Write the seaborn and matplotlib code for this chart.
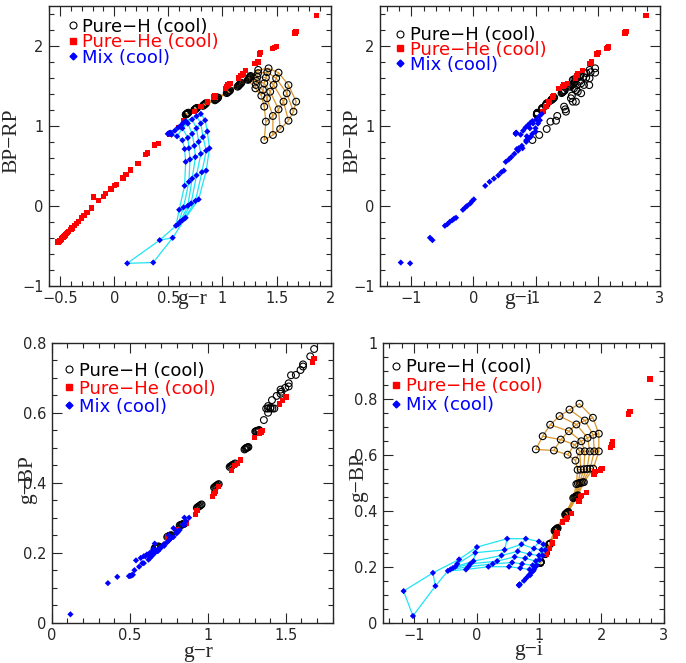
import numpy as np
import pandas as pd
import matplotlib
matplotlib.use('Agg')
import matplotlib.pyplot as plt
import seaborn as sns
from matplotlib.ticker import MultipleLocator, FuncFormatter
from matplotlib.lines import Line2D

nan = np.nan

# Pure-H (cool) model grid: one row per temperature step (warm -> cool), one column per track
h_gr = [
    [0.66, 0.664, 0.67, 0.675, 0.679, 0.685],
    [0.74, 0.746, 0.75, 0.754, 0.76, 0.765],
    [0.82, 0.826, 0.833, 0.838, 0.843, 0.85],
    [0.93, 0.935, 0.942, 0.948, 0.955, 0.96],
    [1.04, 1.046, 1.052, 1.057, 1.064, 1.07],
    [1.14, 1.147, 1.154, 1.16, 1.168, 1.175],
    [1.235, 1.24, 1.245, 1.25, 1.255, 1.26],
    [1.304, 1.309, 1.315, 1.322, 1.328, 1.33],
    [1.359, 1.374, 1.386, 1.401, 1.414, 1.426],
    [1.386, 1.411, 1.441, 1.472, 1.496, 1.518],
    [1.401, 1.466, 1.518, 1.564, 1.594, 1.61],
    [1.386, 1.466, 1.533, 1.61, 1.656, 1.681],
]
h_bprp = [
    [1.14, 1.145, 1.15, 1.155, 1.16, 1.165],
    [1.20, 1.205, 1.21, 1.215, 1.22, 1.225],
    [1.25, 1.26, 1.265, 1.27, 1.28, 1.285],
    [1.32, 1.33, 1.335, 1.34, 1.35, 1.355],
    [1.41, 1.42, 1.425, 1.43, 1.44, 1.445],
    [1.49, 1.50, 1.51, 1.52, 1.53, 1.54],
    [1.575, 1.585, 1.595, 1.605, 1.615, 1.625],
    [1.47, 1.512, 1.562, 1.612, 1.659, 1.70],
    [1.378, 1.449, 1.533, 1.604, 1.671, 1.72],
    [1.241, 1.345, 1.428, 1.512, 1.596, 1.666],
    [1.053, 1.124, 1.207, 1.303, 1.408, 1.51],
    [0.823, 0.886, 0.961, 1.065, 1.178, 1.303],
]
h_gi = [
    [1.02, 1.022, 1.024, 1.026, 1.028, 1.03],
    [1.10, 1.102, 1.104, 1.106, 1.108, 1.11],
    [1.16, 1.165, 1.17, 1.175, 1.18, 1.185],
    [1.25, 1.26, 1.27, 1.28, 1.29, 1.30],
    [1.42, 1.43, 1.44, 1.45, 1.46, 1.47],
    [1.55, 1.565, 1.58, 1.595, 1.61, 1.625],
    [1.60, 1.625, 1.65, 1.675, 1.70, 1.72],
    [1.62, 1.67, 1.72, 1.77, 1.82, 1.87],
    [1.585, 1.654, 1.735, 1.816, 1.887, 1.96],
    [1.46, 1.57, 1.68, 1.78, 1.87, 1.96],
    [1.24, 1.35, 1.48, 1.60, 1.735, 1.865],
    [0.95, 1.06, 1.18, 1.33, 1.49, 1.65],
]
h_gbp = [
    [0.213, 0.214, 0.215, 0.216, 0.217, 0.218],
    [0.245, 0.246, 0.247, 0.248, 0.249, 0.25],
    [0.278, 0.279, 0.28, 0.281, 0.282, 0.283],
    [0.328, 0.33, 0.332, 0.334, 0.336, 0.338],
    [0.386, 0.388, 0.39, 0.392, 0.394, 0.396],
    [0.445, 0.447, 0.449, 0.451, 0.453, 0.455],
    [0.495, 0.497, 0.499, 0.50, 0.501, 0.502],
    [0.546, 0.547, 0.548, 0.549, 0.55, 0.55],
    [0.579, 0.612, 0.612, 0.612, 0.612, 0.612],
    [0.60, 0.636, 0.648, 0.66, 0.671, 0.675],
    [0.615, 0.654, 0.684, 0.708, 0.722, 0.732],
    [0.619, 0.666, 0.707, 0.738, 0.761, 0.782],
]

# Mix (cool) model grid
mix_gr = [
    [0.495, 0.50, 0.505, 0.51, 0.515, 0.52],
    [0.53, 0.56, 0.59, 0.62, 0.64, 0.66],
    [0.58, 0.63, 0.68, 0.72, 0.76, 0.80],
    [0.63, 0.68, 0.72, 0.76, 0.80, 0.84],
    [0.65, 0.69, 0.74, 0.78, 0.82, 0.86],
    [0.66, 0.70, 0.75, 0.80, 0.85, 0.88],
    [0.65, 0.69, 0.72, 0.76, 0.81, 0.85],
    [0.60, 0.64, 0.68, 0.71, 0.75, 0.78],
    [0.57, 0.59, 0.61, 0.63, 0.65, 0.66],
    [0.42, nan, nan, nan, nan, 0.54],
    [0.12, nan, nan, nan, nan, 0.36],
]
mix_bprp = [
    [0.90, 0.903, 0.906, 0.909, 0.912, 0.915],
    [0.89, 0.94, 0.98, 1.01, 1.04, 1.06],
    [0.87, 0.97, 1.03, 1.08, 1.12, 1.15],
    [0.82, 0.85, 0.90, 0.97, 1.03, 1.07],
    [0.71, 0.72, 0.75, 0.80, 0.86, 0.93],
    [0.55, 0.58, 0.61, 0.65, 0.69, 0.72],
    [0.25, 0.30, 0.34, 0.38, 0.42, 0.44],
    [-0.05, -0.02, 0.00, 0.03, 0.06, 0.08],
    [-0.25, -0.23, -0.20, -0.18, -0.16, -0.15],
    [-0.43, nan, nan, nan, nan, -0.40],
    [-0.72, nan, nan, nan, nan, -0.71],
]
mix_gi = [
    [0.68, 0.682, 0.684, 0.686, 0.688, 0.69],
    [0.76, 0.80, 0.84, 0.88, 0.92, 0.95],
    [0.86, 0.91, 0.96, 1.01, 1.06, 1.10],
    [0.85, 0.90, 0.95, 1.00, 1.04, 1.07],
    [0.70, 0.73, 0.78, 0.85, 0.92, 1.00],
    [0.52, 0.57, 0.61, 0.66, 0.72, 0.79],
    [0.19, 0.26, 0.33, 0.40, 0.45, 0.49],
    [-0.17, -0.13, -0.10, -0.05, -0.02, 0.006],
    [-0.46, -0.42, -0.38, -0.34, -0.31, -0.28],
    [-0.66, nan, nan, nan, nan, -0.70],
    [-1.02, nan, nan, nan, nan, -1.17],
]
mix_gbp = [
    [0.133, 0.134, 0.134, 0.135, 0.136, 0.137],
    [0.15, 0.16, 0.17, 0.18, 0.19, 0.20],
    [0.17, 0.185, 0.205, 0.225, 0.24, 0.26],
    [0.19, 0.205, 0.22, 0.24, 0.26, 0.28],
    [0.195, 0.21, 0.23, 0.245, 0.265, 0.29],
    [0.20, 0.215, 0.235, 0.255, 0.28, 0.30],
    [0.20, 0.21, 0.22, 0.24, 0.26, 0.30],
    [0.19, 0.20, 0.21, 0.22, 0.25, 0.27],
    [0.185, 0.19, 0.195, 0.20, 0.21, 0.226],
    [0.131, nan, nan, nan, nan, 0.178],
    [0.024, nan, nan, nan, nan, 0.113],
]

# Pure-He (cool): cool part with all four colours
he_gr = [0.74, 0.80, 0.86, 0.92, 0.93, 1.03, 1.04, 1.05, 1.07, 1.15, 1.17, 1.19, 1.21,
         1.30, 1.33, 1.34, 1.35, 1.46, 1.48, 1.50, 1.67, 1.68, 1.87]
he_bprp = [1.18, 1.24, 1.30, 1.36, 1.38, 1.47, 1.49, 1.51, 1.53, 1.60, 1.63, 1.65, 1.69,
           1.78, 1.80, 1.90, 1.92, 1.97, 1.98, 1.99, 2.16, 2.18, 2.38]
he_gi = [1.12, 1.17, 1.22, 1.27, 1.29, 1.38, 1.44, 1.46, 1.52, 1.64, 1.67, 1.68, 1.76,
         1.88, 1.90, 1.99, 2.01, 2.15, 2.17, 2.18, 2.44, 2.46, 2.78]
he_gbp = [0.245, 0.265, 0.285, 0.31, 0.32, 0.36, 0.37, 0.375, 0.39, 0.435, 0.45, 0.455, 0.465,
          0.53, 0.54, 0.545, 0.55, 0.625, 0.635, 0.645, 0.745, 0.755, 0.87]
# warmer Pure-He points with Gaia/g-r colours only
he_hot_gr = [-0.52, -0.515, -0.51, -0.505, -0.50, -0.49, -0.485, -0.475, -0.47, -0.46, -0.45,
             -0.44, -0.43, -0.42, -0.40, -0.39, -0.37, -0.35, -0.33, -0.30, -0.28, -0.25,
             -0.21, -0.19, -0.145, -0.10, -0.08, -0.03, 0.00, 0.02, 0.08, 0.11, 0.15, 0.22,
             0.29, 0.31, 0.37, 0.41, 0.51, 0.53, 0.60, 0.64]
he_hot_bprp = [-0.455, -0.45, -0.445, -0.44, -0.435, -0.42, -0.41, -0.40, -0.39, -0.38, -0.365,
               -0.35, -0.335, -0.32, -0.295, -0.28, -0.25, -0.225, -0.195, -0.155, -0.125, -0.085,
               -0.03, 0.11, 0.07, 0.12, 0.155, 0.21, 0.25, 0.27, 0.35, 0.39, 0.45, 0.53,
               0.64, 0.66, 0.76, 0.78, 0.90, 0.91, 0.98, 1.06]


def grid_frame(gr, bprp, gi, gbp):
    rows = []
    for t in range(len(gr)):
        for k in range(len(gr[t])):
            if np.isnan(gr[t][k]):
                continue
            rows.append({'T': t, 'track': k, 'gr': gr[t][k], 'bprp': bprp[t][k],
                         'gi': gi[t][k], 'gbp': gbp[t][k]})
    return pd.DataFrame(rows)


df_h = grid_frame(h_gr, h_bprp, h_gi, h_gbp)
df_mix = grid_frame(mix_gr, mix_bprp, mix_gi, mix_gbp)
df_he = pd.concat([
    pd.DataFrame({'gr': he_gr, 'bprp': he_bprp, 'gi': he_gi, 'gbp': he_gbp}),
    pd.DataFrame({'gr': he_hot_gr, 'bprp': he_hot_bprp,
                  'gi': [nan] * len(he_hot_gr), 'gbp': [nan] * len(he_hot_gr)}),
], ignore_index=True)

sns.set_style('ticks')
plt.rcParams['font.family'] = ['DejaVu Sans']

H_LINE = '#d9962b'
MIX_LINE = '#1fe4f5'
MINUS = '\u2212'
LABEL_FONT = ['Liberation Serif', 'DejaVu Serif']

fig = plt.figure(figsize=(6.86, 6.63), dpi=100)
W, H = 686, 663

# box (left, right, top, bottom) in pixels, columns, grid lines?, limits, ticks, labels,
# label positions, legend anchor and row spacing
panels = [
    ((49.3, 330.7, 6, 285.7), 'gr', 'bprp', True, (-0.6, 2.0), (-1, 2.5), (0.5, 0.1), (1, 0.2),
     'g' + MINUS + 'r', 'BP' + MINUS + 'RP', (0.507, -0.048), (-0.133, 0.52), (0.06, 0.958), -0.14),
    ((380.3, 659.7, 6, 285.7), 'gi', 'bprp', False, (-1.5, 3.0), (-1, 2.5), (1, 0.2), (1, 0.2),
     'g' + MINUS + 'i', 'BP' + MINUS + 'RP', (0.493, -0.048), (-0.098, 0.52), (0.049, 0.929), -0.17),
    ((51.7, 332.7, 342.7, 622.7), 'gr', 'gbp', False, (0, 1.8), (0, 0.8), (0.5, 0.1), (0.2, 0.05),
     'g' + MINUS + 'r', 'g' + MINUS + 'BP', (0.52, -0.105), (-0.086, 0.51), (0.038, 0.932), 0.0),
    ((383, 663.7, 342.7, 622.7), 'gi', 'gbp', True, (-1.5, 3.0), (0, 1), (1, 0.2), (0.2, 0.05),
     'g' + MINUS + 'i', 'g' + MINUS + 'BP', (0.517, -0.098), (-0.087, 0.52), (0.024, 0.945), 0.05),
]

fmt = FuncFormatter(lambda v, p: ('%g' % round(v, 3)).replace('-', MINUS))

for (box, xc, yc, grid_lines, xlim, ylim, xt, yt, xlab, ylab,
     xlab_pos, ylab_pos, anchor, lsp) in panels:
    l, r, t, b = box
    ax = fig.add_axes([l / W, (H - b) / H, (r - l) / W, (b - t) / H])

    if grid_lines:
        for uname in ['track', 'T']:
            sns.lineplot(data=df_h, x=xc, y=yc, units=uname, estimator=None, sort=False,
                         color=H_LINE, lw=0.9, ax=ax, legend=False, zorder=1)
    sns.scatterplot(data=df_h, x=xc, y=yc, marker='o', s=24, facecolors='none',
                    edgecolor='black', linewidth=0.8, ax=ax, legend=False, zorder=2)
    sns.scatterplot(data=df_he, x=xc, y=yc, marker='s', s=15, color='red',
                    edgecolor='none', ax=ax, legend=False, zorder=3)
    if grid_lines:
        for uname in ['track', 'T']:
            sns.lineplot(data=df_mix, x=xc, y=yc, units=uname, estimator=None, sort=False,
                         color=MIX_LINE, lw=0.9, ax=ax, legend=False, zorder=4)
    sns.scatterplot(data=df_mix, x=xc, y=yc, marker='D', s=10, color='blue',
                    edgecolor='none', ax=ax, legend=False, zorder=5)

    ax.set_xlim(*xlim)
    ax.set_ylim(*ylim)
    ax.xaxis.set_major_locator(MultipleLocator(xt[0]))
    ax.xaxis.set_minor_locator(MultipleLocator(xt[1]))
    ax.yaxis.set_major_locator(MultipleLocator(yt[0]))
    ax.yaxis.set_minor_locator(MultipleLocator(yt[1]))
    ax.xaxis.set_major_formatter(fmt)
    ax.yaxis.set_major_formatter(fmt)
    ax.tick_params(which='both', direction='in', top=True, right=True, width=0.8,
                   labelsize=10.5, pad=4)
    ax.tick_params(which='major', length=7)
    ax.tick_params(which='minor', length=3.5)
    for sp in ax.spines.values():
        sp.set_linewidth(1.0)

    ax.set_xlabel(xlab, family=LABEL_FONT, fontsize=15.5, va='center')
    ax.set_ylabel(ylab, family=LABEL_FONT, fontsize=15.5, va='center')
    ax.xaxis.set_label_coords(*xlab_pos)
    ax.yaxis.set_label_coords(*ylab_pos)

    handles = [
        Line2D([], [], ls='none', marker='o', ms=5, mfc='none', mec='black', mew=0.8),
        Line2D([], [], ls='none', marker='s', ms=4, mfc='red', mec='red'),
        Line2D([], [], ls='none', marker='D', ms=3.5, mfc='blue', mec='blue'),
    ]
    labels = ['Pure' + MINUS + 'H (cool)', 'Pure' + MINUS + 'He (cool)', 'Mix (cool)']
    ax.legend(handles, labels, loc='upper left', bbox_to_anchor=anchor, frameon=False,
              fontsize=13, handlelength=0.7, handletextpad=0.2, labelspacing=lsp,
              borderpad=0, borderaxespad=0, labelcolor=['black', 'red', 'blue'])

fig.savefig('out.png', dpi=100)
